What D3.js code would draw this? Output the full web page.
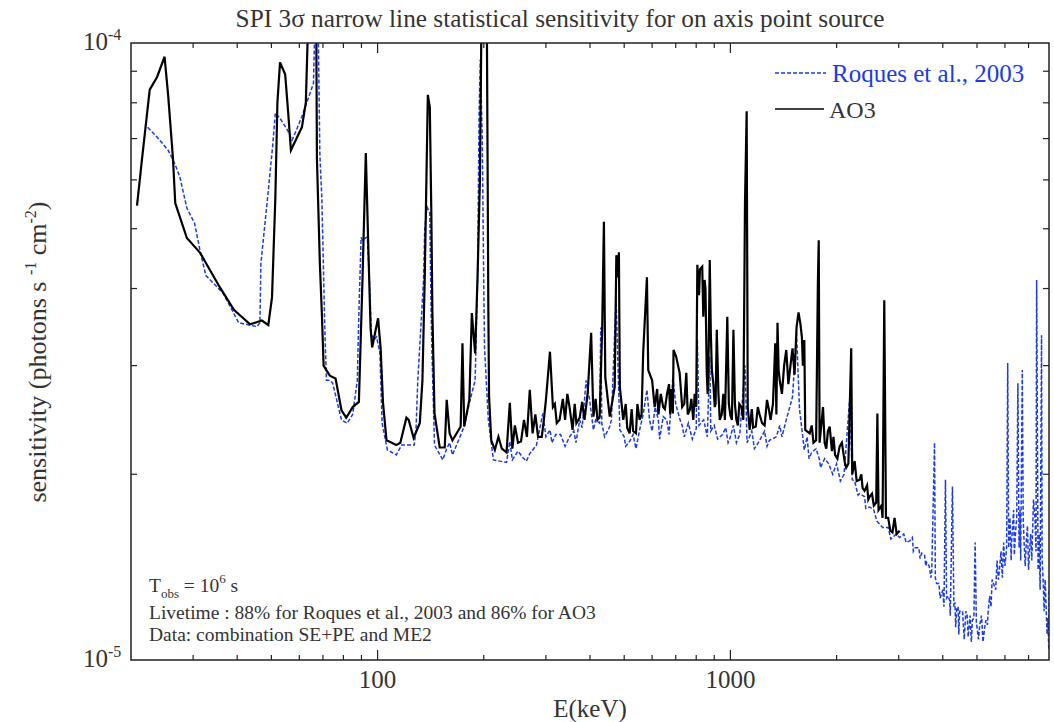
<!DOCTYPE html>
<html>
<head>
<meta charset="utf-8">
<script src="https://cdn.jsdelivr.net/npm/d3@7"></script>
<style>
  body { margin: 0; background: #fff; }
  text { font-family: "Liberation Serif", "Times New Roman", serif; fill: #333; }
</style>
</head>
<body>
<div id="chart"></div>
<script>
// global const
const width = 1054, height = 722;
const margin = { left: 131, right: 5, top: 43, bottom: 62 };
const colors = { ao3: "#000", roques: "#1b3be6" };
const unit = 1e-5; // sensitivities below are in units of 1e-5 photons s-1 cm-2

// AO3 : [E (keV), sensitivity / 1e-5]
const ao3 = [
  [20.8, 5.45], [21.5, 6.5], [22.6, 8.4], [23.7, 8.8], [24.9, 9.5], [25.5, 8.2], [26.3, 6.5], [26.7, 5.5],
  [28.8, 4.83], [31.4, 4.57], [35.7, 4.02], [39.2, 3.69], [43.5, 3.5], [47, 3.55], [49, 3.49], [50.2, 3.87],
  [51.3, 5.6], [52, 8.0], [52.9, 9.3], [54.7, 8.9], [55.8, 7.7], [56.8, 6.7], [58.9, 7.0], [61, 7.3],
  [62.6, 8.0], [63.6, 11], [67.0, 11], [67.3, 6.5], [68.6, 4.4], [69.5, 3.65], [70.3, 3.0], [73.2, 2.89],
  [76, 2.86], [79, 2.54], [81.5, 2.47], [85, 2.57], [88.5, 2.62], [90.6, 4.13], [92.6, 6.63], [94, 4.8],
  [95.5, 3.46], [96.5, 3.21], [100.3, 3.58], [102, 3.2], [103.6, 2.61], [106, 2.27], [113, 2.23], [116, 2.25],
  [120.7, 2.47], [122.5, 2.45], [126.5, 2.29], [131.7, 2.42], [134, 2.84], [136, 4.13], [138.8, 8.24], [140.6, 7.87],
  [142, 5.3], [143, 3.65], [145, 2.51], [150, 2.21], [155, 2.21], [157, 2.64], [160, 2.33], [163, 2.27],
  [172, 2.39], [174, 3.26], [176, 2.39], [182, 2.64], [185, 3.65], [189, 3.14], [192, 4.17], [195, 6.0],
  [197, 11], [204, 11], [206, 3.73], [207, 2.67], [210, 2.27], [215, 2.19], [220, 2.3], [225, 2.2],
  [232, 2.17], [237, 2.61], [241, 2.2], [245, 2.4], [250, 2.25], [255, 2.26], [260, 2.45], [265, 2.3],
  [270, 2.74], [275, 2.33], [280, 2.5], [285, 2.3], [292, 2.3], [296, 2.45], [300, 2.64], [308, 3.16],
  [314, 2.57], [318, 2.6], [322, 2.42], [328, 2.45], [335, 2.65], [340, 2.45], [345, 2.7], [350, 2.57],
  [357, 2.36], [362, 2.6], [366, 2.42], [374, 2.47], [380, 2.62], [386, 2.45], [394, 2.71], [403, 3.39],
  [409, 2.48], [415, 2.65], [420, 2.45], [426, 2.48], [433, 3.43], [438, 5.13], [442, 2.87], [455, 2.48],
  [470, 2.77], [475, 4.53], [479, 4.17], [483, 4.58], [486, 2.77], [497, 2.45], [505, 2.6], [510, 2.38],
  [518, 2.33], [525, 2.55], [530, 2.35], [540, 2.33], [545, 2.6], [553, 2.45], [560, 2.5], [566, 3.15],
  [580, 4.17], [585, 2.95], [600, 2.84], [610, 2.57], [620, 2.75], [625, 2.5], [635, 2.7], [645, 2.57],
  [652, 2.55], [662, 2.71], [670, 2.8], [675, 2.5], [680, 2.75], [687, 2.51], [690, 3.18], [702, 3.1],
  [718, 2.92], [730, 2.57], [740, 2.6], [750, 2.92], [757, 2.5], [767, 2.54], [775, 2.65], [785, 2.45],
  [792, 2.7], [800, 2.57], [806, 4.37], [815, 3.9], [820, 4.3], [832, 4.34], [838, 3.6], [845, 4.13],
  [850, 4.0], [857, 2.92], [862, 2.7], [868, 3.2], [874, 4.45], [880, 3.4], [886, 2.95], [895, 2.8],
  [903, 2.57], [908, 2.6], [915, 3.43], [925, 2.7], [933, 2.45], [945, 2.5], [955, 2.7], [965, 2.45],
  [980, 3.6], [990, 2.6], [1000, 2.49], [1010, 2.45], [1020, 3.43], [1030, 2.6], [1040, 2.45], [1050, 2.4],
  [1060, 2.6], [1075, 2.57], [1088, 2.45], [1100, 5.5], [1112, 7.75], [1120, 2.57], [1134, 2.36], [1150, 2.55],
  [1160, 2.38], [1180, 2.39], [1196, 2.57], [1210, 2.5], [1230, 2.42], [1250, 2.4], [1270, 2.64], [1285, 2.55],
  [1300, 2.45], [1320, 2.6], [1330, 2.9], [1340, 3.26], [1350, 2.5], [1360, 3.52], [1370, 2.95], [1380, 2.84],
  [1400, 2.7], [1420, 3.0], [1440, 3.18], [1460, 2.8], [1480, 3.0], [1500, 3.2], [1520, 2.9], [1540, 3.46],
  [1560, 3.66], [1580, 3.5], [1595, 3.33], [1605, 3.0], [1615, 3.2], [1620, 3.3], [1630, 2.36], [1678, 2.33],
  [1700, 2.4], [1720, 2.25], [1750, 2.27], [1770, 4.08], [1780, 4.79], [1790, 2.25], [1810, 2.4], [1830, 2.57],
  [1850, 2.25], [1870, 2.2], [1890, 2.35], [1912, 2.39], [1940, 2.18], [1960, 2.3], [1980, 2.15], [2010, 2.12],
  [2040, 2.22], [2070, 2.25], [2110, 2.09], [2130, 2.05], [2160, 2.08], [2200, 3.2], [2215, 2.0], [2250, 2.1],
  [2280, 1.95], [2325, 1.96], [2350, 2.0], [2370, 1.9], [2400, 1.88], [2440, 1.92], [2460, 1.82], [2482, 1.84],
  [2520, 1.86], [2550, 1.78], [2590, 1.8], [2610, 2.51], [2630, 1.75], [2680, 1.78], [2700, 1.7], [2730, 3.83],
  [2760, 1.7], [2800, 1.7], [2840, 1.62], [2880, 1.61], [2920, 1.7], [2960, 1.6], [3018, 1.62]
];

// Roques et al., 2003 : [E (keV), sensitivity / 1e-5]
const roques = [
  [22.3, 7.3], [23.7, 7.04], [25.5, 6.7], [26.6, 6.38], [27.5, 6.07], [28.8, 5.4], [30.3, 5.1], [31.4, 4.6],
  [32.6, 4.2], [36.5, 3.93], [40.4, 3.52], [45.5, 3.47], [46.4, 3.52], [46.7, 4.4], [48.8, 5.63], [50.4, 6.8],
  [51.3, 7.7], [52.9, 7.55], [55.5, 7.23], [57.2, 6.96], [58.9, 7.23], [61, 7.6], [65.8, 8.6], [66.5, 11],
  [67.8, 11], [68.6, 6.6], [69.5, 5.6], [70, 4.7], [70.8, 3.5], [71.6, 2.84], [73.2, 2.84], [74.6, 2.81],
  [79, 2.45], [82, 2.42], [85, 2.5], [87.6, 2.84], [88.5, 3.65], [89.8, 4.84], [90.6, 4.79], [93.5, 4.85],
  [95, 4.02], [96, 3.39], [97.6, 3.3], [99.3, 3.34], [101.5, 3.15], [103, 2.42], [106.6, 2.19], [113, 2.15],
  [117, 2.23], [127, 2.23], [128.5, 2.36], [130, 2.84], [135, 4.13], [136, 4.98], [138, 5.43], [140.6, 5.3],
  [141.6, 3.87], [142.5, 3.2], [145, 2.23], [153, 2.11], [157, 2.2], [160, 2.25], [163, 2.15], [176, 2.39],
  [182, 2.61], [189, 2.84], [192, 4.13], [194, 7.7], [195.5, 9.4], [198, 7.0], [200, 3.98], [201, 3.2],
  [206, 2.45], [213, 2.11], [232, 2.09], [237, 2.26], [241, 2.11], [250, 2.18], [258, 2.13], [264, 2.1],
  [270, 2.16], [282, 2.23], [294, 2.51], [300, 2.3], [308, 2.36], [312, 2.25], [320, 2.32], [330, 2.32],
  [340, 2.22], [350, 2.3], [360, 2.35], [365, 2.25], [374, 2.45], [380, 2.38], [390, 2.84], [399, 2.64],
  [409, 2.36], [415, 2.45], [426, 2.42], [429, 3.46], [432, 2.42], [440, 2.3], [455, 2.39], [460, 2.45],
  [474, 3.87], [478, 3.3], [486, 2.36], [500, 2.3], [505, 2.22], [518, 2.26], [530, 2.32], [540, 2.2],
  [553, 2.36], [566, 2.5], [580, 2.74], [590, 2.45], [600, 2.35], [612, 2.57], [625, 2.45], [630, 2.28],
  [645, 2.48], [660, 2.45], [670, 2.32], [687, 2.88], [700, 2.6], [720, 2.45], [730, 2.4], [740, 2.3],
  [760, 2.42], [780, 2.28], [800, 2.37], [806, 3.3], [815, 2.4], [840, 2.45], [860, 2.3], [874, 3.1],
  [880, 2.35], [900, 2.4], [920, 2.28], [950, 2.32], [970, 2.38], [985, 2.25], [1000, 2.3], [1020, 2.4],
  [1040, 2.25], [1063, 2.32], [1100, 3.0], [1115, 2.25], [1150, 2.35], [1170, 2.2], [1200, 2.25], [1250, 2.35],
  [1270, 2.22], [1290, 2.27], [1350, 2.3], [1380, 2.4], [1400, 2.3], [1440, 2.45], [1500, 2.67], [1540, 3.39],
  [1570, 2.55], [1620, 2.19], [1650, 2.3], [1670, 2.12], [1700, 2.17], [1750, 2.2], [1790, 2.11], [1800, 2.05],
  [1850, 2.12], [1900, 2.08], [1950, 2.0], [2000, 2.08], [2050, 1.95], [2100, 2.0], [2180, 2.67], [2215, 1.96],
  [2250, 1.95], [2300, 1.85], [2325, 1.86], [2400, 1.84], [2420, 1.76], [2480, 1.77], [2550, 1.75], [2600, 1.68],
  [2700, 1.64], [2800, 1.64], [2850, 1.57], [2950, 1.6], [3018, 1.58], [3100, 1.6], [3150, 1.55], [3222, 1.56],
  [3280, 1.58], [3300, 1.5], [3340, 1.52], [3420, 1.52], [3450, 1.46], [3485, 1.49], [3550, 1.48], [3580, 1.42],
  [3600, 1.44], [3660, 1.42], [3700, 1.36], [3720, 1.38], [3790, 2.25], [3810, 1.36], [3840, 1.33], [3900, 1.33],
  [3930, 1.26], [3970, 1.28], [4000, 1.3], [4030, 1.22], [4070, 1.96], [4100, 1.26], [4140, 1.27], [4182, 1.25],
  [4200, 1.18], [4260, 1.91], [4300, 1.22], [4330, 1.24], [4350, 1.13], [4380, 1.21], [4420, 1.22], [4440, 1.1],
  [4465, 1.2], [4550, 1.2], [4600, 1.08], [4650, 1.2], [4690, 1.18], [4720, 1.09], [4780, 1.18], [4820, 1.07],
  [4850, 1.16], [4900, 1.17], [4940, 1.55], [4980, 1.15], [5050, 1.08], [5090, 1.14], [5150, 1.18], [5200, 1.07],
  [5260, 1.13], [5300, 1.16], [5350, 1.14], [5380, 1.2], [5430, 1.27], [5480, 1.22], [5520, 1.35], [5570, 1.33],
  [5650, 1.3], [5700, 1.45], [5750, 1.35], [5796, 1.41], [5850, 1.5], [5900, 1.36], [5950, 1.55], [6000, 1.42],
  [6067, 1.52], [6110, 3.03], [6150, 1.52], [6200, 1.7], [6250, 1.45], [6268, 1.55], [6350, 1.75], [6380, 1.48],
  [6430, 1.61], [6480, 1.7], [6530, 2.81], [6580, 1.52], [6620, 1.75], [6650, 1.45], [6720, 2.95], [6760, 1.7],
  [6800, 1.55], [6850, 1.42], [6900, 1.56], [6950, 1.65], [7000, 1.4], [7040, 1.49], [7100, 1.6], [7150, 1.45],
  [7230, 1.82], [7300, 1.7], [7350, 1.5], [7380, 4.13], [7450, 1.4], [7500, 1.6], [7550, 1.3], [7620, 3.36],
  [7650, 1.45], [7700, 1.35], [7750, 1.2], [7800, 1.35], [7840, 1.25], [7900, 1.1], [7940, 1.17], [7990, 1.04],
  [8000, 1.3]
];

const xDomain = [20, 8000];
const yDomain = [1e-5, 1e-4];
const xLabels = [100, 1000];
const yLabels = [{ v: 1e-4, exp: "-4" }, { v: 1e-5, exp: "-5" }];

var svg = d3.select("#chart")
    .append("svg")
    .attr("width", width)
    .attr("height", height)
    .style("background-color", "#fff")

var x = d3.scaleLog().domain(xDomain).range([margin.left, width - margin.right])
var y = d3.scaleLog().domain(yDomain).range([height - margin.bottom, margin.top])

svg.append("clipPath").attr("id", "clip")
    .append("rect")
    .attr("x", margin.left).attr("y", margin.top)
    .attr("width", width - margin.right - margin.left)
    .attr("height", height - margin.bottom - margin.top)

var line = d3.line()
    .x(d => x(d[0]))
    .y(d => y(d[1] * unit))

var plot = svg.append("g").attr("clip-path", "url(#clip)")

plot.append("path")
    .attr("d", line(d3.sort(roques, d => d[0])))
    .attr("fill", "none")
    .attr("stroke", colors.roques)
    .attr("stroke-width", 1.5)
    .attr("stroke-dasharray", "4,2")

plot.append("path")
    .attr("d", line(d3.sort(ao3, d => d[0])))
    .attr("fill", "none")
    .attr("stroke", colors.ao3)
    .attr("stroke-width", 2.2)

// frame
const x0 = margin.left, x1 = width - margin.right, y0 = height - margin.bottom, y1 = margin.top;
svg.append("rect")
    .attr("x", x0).attr("y", y1)
    .attr("width", x1 - x0).attr("height", y0 - y1)
    .attr("fill", "none").attr("stroke", "#222").attr("stroke-width", 1.5)

// x ticks, top and bottom, pointing inwards
const isMajor = v => Math.abs(Math.log10(v) - Math.round(Math.log10(v))) < 1e-6;
x.ticks().filter(v => v > xDomain[0] && v < xDomain[1]).forEach(v => {
    var len = isMajor(v) ? 10 : 5;
    svg.append("line").attr("x1", x(v)).attr("x2", x(v)).attr("y1", y0).attr("y2", y0 - len)
        .attr("stroke", "#222").attr("stroke-width", 1.2)
    svg.append("line").attr("x1", x(v)).attr("x2", x(v)).attr("y1", y1).attr("y2", y1 + len)
        .attr("stroke", "#222").attr("stroke-width", 1.2)
})

// y ticks, left and right
y.ticks().filter(v => v > yDomain[0] * 1.01 && v < yDomain[1] * 0.99).forEach(v => {
    svg.append("line").attr("x1", x0).attr("x2", x0 + 6).attr("y1", y(v)).attr("y2", y(v))
        .attr("stroke", "#222").attr("stroke-width", 1.2)
    svg.append("line").attr("x1", x1).attr("x2", x1 - 6).attr("y1", y(v)).attr("y2", y(v))
        .attr("stroke", "#222").attr("stroke-width", 1.2)
})

// tick labels
xLabels.forEach(v => {
    svg.append("text").attr("x", x(v)).attr("y", 688)
        .attr("text-anchor", "middle").style("font-size", "25px").text(v)
})
yLabels.forEach(d => {
    var t = svg.append("text").attr("x", 83).attr("y", y(d.v) + 7).style("font-size", "25px")
    t.append("tspan").text("10")
    t.append("tspan").attr("dy", -10).style("font-size", "16px").text(d.exp)
})

// axis titles
svg.append("text").attr("x", 590).attr("y", 717)
    .attr("text-anchor", "middle").style("font-size", "25px").text("E(keV)")

var yl = svg.append("text")
    .attr("transform", `translate(46, ${352}) rotate(-90)`)
    .attr("text-anchor", "middle").style("font-size", "26px")
yl.append("tspan").text("sensitivity (photons s ")
yl.append("tspan").attr("dy", -10).style("font-size", "16px").text("-1")
yl.append("tspan").attr("dy", 10).text(" cm")
yl.append("tspan").attr("dy", -10).style("font-size", "16px").text("-2")
yl.append("tspan").attr("dy", 10).text(")")

svg.append("text").attr("x", 560).attr("y", 27)
    .attr("text-anchor", "middle").style("font-size", "25.3px")
    .text("SPI 3σ narrow line statistical sensitivity for on axis point source")

// legend
svg.append("line").attr("x1", 775).attr("x2", 826).attr("y1", 73).attr("y2", 73)
    .attr("stroke", colors.roques).attr("stroke-width", 1.5).attr("stroke-dasharray", "4,2")
svg.append("text").attr("x", 832).attr("y", 82).style("font-size", "25px")
    .style("fill", colors.roques).text("Roques et al., 2003")
svg.append("line").attr("x1", 775).attr("x2", 824).attr("y1", 109).attr("y2", 109)
    .attr("stroke", colors.ao3).attr("stroke-width", 1.6)
svg.append("text").attr("x", 829).attr("y", 118).style("font-size", "24px").text("AO3")

// notes
var n1 = svg.append("text").attr("x", 149).attr("y", 592).style("font-size", "19.5px")
n1.append("tspan").text("T")
n1.append("tspan").attr("dy", 6).style("font-size", "13px").text("obs")
n1.append("tspan").attr("dy", -6).text(" = 10")
n1.append("tspan").attr("dy", -9).style("font-size", "13px").text("6")
n1.append("tspan").attr("dy", 9).text(" s")
svg.append("text").attr("x", 149).attr("y", 619).style("font-size", "19.5px")
    .text("Livetime : 88% for Roques et al., 2003 and 86% for AO3")
svg.append("text").attr("x", 149).attr("y", 641).style("font-size", "19.5px")
    .text("Data: combination SE+PE and ME2")
</script>
</body>
</html>
